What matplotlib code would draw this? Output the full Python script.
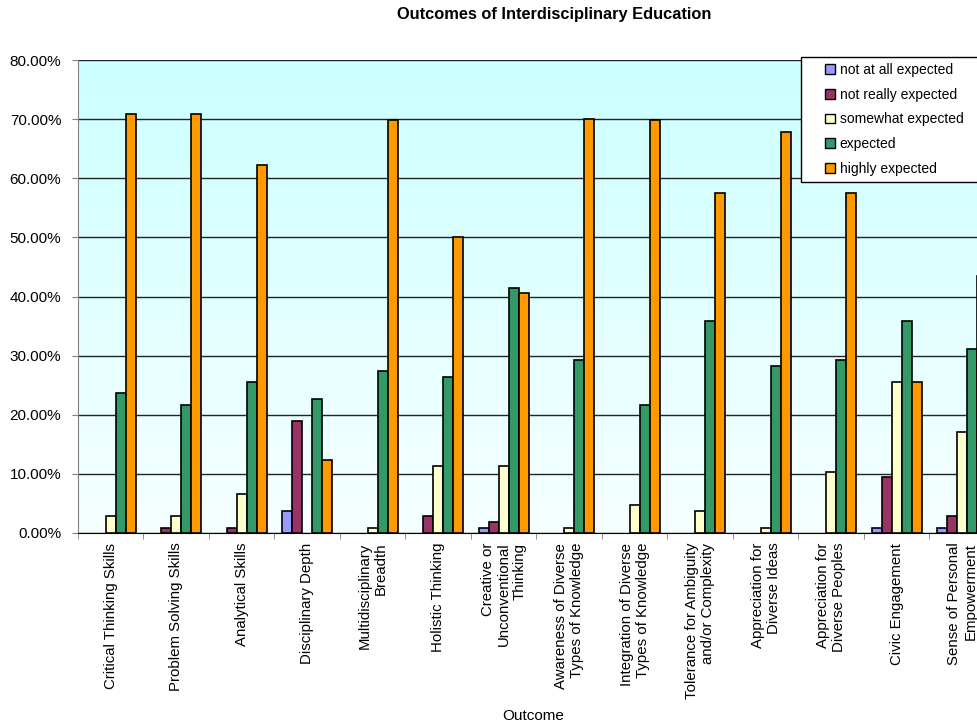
import numpy as np
import matplotlib
matplotlib.use('Agg')
import matplotlib.pyplot as plt
from matplotlib.patches import Rectangle
from matplotlib.ticker import FuncFormatter, MultipleLocator

plt.rcParams['font.family'] = ['Liberation Sans', 'DejaVu Sans']

outcomes = ['Critical Thinking Skills', 'Problem Solving Skills', 'Analytical Skills',
            'Disciplinary Depth', 'Multidisciplinary\nBreadth', 'Holistic Thinking',
            'Creative or\nUnconventional\nThinking', 'Awareness of Diverse\nTypes of Knowledge',
            'Integration of Diverse\nTypes of Knowledge', 'Tolerance for Ambiguity\nand/or Complexity',
            'Appreciation for\nDiverse Ideas', 'Appreciation for\nDiverse Peoples',
            'Civic Engagement', 'Sense of Personal\nEmpowerment']

series_names = ['not at all expected', 'not really expected', 'somewhat expected',
                'expected', 'highly expected']

not_at_all = [0, 0, 0, 3.8, 0, 0, 0.9, 0, 0, 0, 0, 0, 0.9, 0.9]
not_really = [0, 0.9, 0.9, 18.9, 0, 2.8, 1.9, 0, 0, 0, 0, 0, 9.4, 2.8]
somewhat = [2.8, 2.8, 6.6, 0, 0.9, 11.3, 11.3, 0.9, 4.7, 3.8, 0.9, 10.4, 25.5, 17.0]
expected = [23.6, 21.7, 25.5, 22.6, 27.4, 26.4, 41.5, 29.2, 21.7, 35.8, 28.3, 29.2, 35.8, 31.1]
highly = [70.8, 70.8, 62.3, 12.3, 69.8, 50.0, 40.6, 70.0, 69.8, 57.5, 67.9, 57.5, 25.5, 43.4]

colors = ['#9999FF', '#993366', '#FFFFCC', '#339966', '#FF9900']

fig = plt.figure(figsize=(9.78, 7.23), dpi=100)
# plot area runs past the right edge, as in the original screenshot
ax = fig.add_axes([78/978, 1 - 533/723, (995 - 78)/978, (533 - 60)/723])

x = np.arange(len(outcomes))
w = 0.153
all_series = [not_at_all, not_really, somewhat, expected, highly]

# gradient background
grad = np.linspace(0, 1, 256).reshape(-1, 1)
c_top = np.array([204, 255, 255]) / 255
c_bot = np.array([246, 255, 255]) / 255
img = c_top + (c_bot - c_top) * grad[:, :, None]
ax.imshow(img, extent=(-0.5, 13.5, 0, 80), aspect='auto', zorder=0, origin='upper')

handles = []
for i, (vals, name) in enumerate(zip(all_series, series_names)):
    vals = np.array(vals, dtype=float)
    keep = vals > 0  # zero bars are not drawn in the original
    b = ax.bar(x[keep] + (i - 2) * w, vals[keep], width=w, color=colors[i], edgecolor='black',
               linewidth=1.2, label=name, zorder=3)
    handles.append(b)

ax.set_xlim(-0.5, 13.5)
ax.set_ylim(0, 80)
ax.yaxis.set_major_locator(MultipleLocator(10))
ax.yaxis.set_major_formatter(FuncFormatter(lambda v, p: '%.2f%%' % v))
ax.yaxis.grid(True, color='#222222', linewidth=1, zorder=1)
ax.set_axisbelow(True)

ax.set_xticks(x)
ax.set_xticklabels(outcomes, rotation=90, ha='center', va='top', multialignment='right', fontsize=10.8)
ax.set_xticks(np.arange(-0.5, 14, 1), minor=True)
ax.tick_params(axis='x', which='major', length=0, pad=7)
ax.tick_params(axis='x', which='minor', length=4, color='#808080', direction='out')
ax.tick_params(axis='y', length=4, color='#808080', direction='out', labelsize=11, pad=8)

for s in ['top', 'right']:
    ax.spines[s].set_visible(False)
ax.spines['left'].set_color('#808080')
ax.spines['bottom'].set_color('black')

fig.text(533/978, 1 - 720/723, 'Outcome', ha='center', va='baseline', fontsize=11)
fig.text(554/978, 1 - 14/723, 'Outcomes of Interdisciplinary Education', ha='center', va='center',
         fontsize=11.8, fontweight='bold')

# legend frame (clipped at the right edge like the original)
ax.add_patch(Rectangle((801/978, 1 - 182/723), 200/978, 125/723, transform=fig.transFigure,
                       facecolor='white', edgecolor='black', linewidth=1, zorder=6, clip_on=False))
leg = ax.legend(handles=handles, labels=series_names, loc='upper left',
                bbox_to_anchor=(825/978, 1 - 63/723), bbox_transform=fig.transFigure,
                fontsize=10, frameon=False,
                handlelength=0.7, handleheight=0.7, handletextpad=0.35, labelspacing=0.77,
                borderpad=0, borderaxespad=0)
leg.set_zorder(7)
for h in leg.legend_handles:
    h.set_linewidth(1)

fig.savefig('out.png', dpi=100)
